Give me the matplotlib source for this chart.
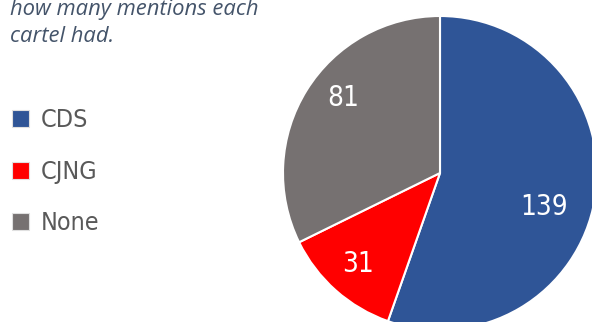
import numpy as np
import matplotlib.pyplot as plt
from matplotlib.patches import Patch

labels = ['CDS', 'CJNG', 'None']
counts = [139, 31, 81]
colors = ['#2F5597', '#FF0000', '#767171']

fig = plt.figure(figsize=(5.92, 3.22), dpi=100)

# pie is larger than the canvas: it runs off the right and bottom edges
cx, cy, r = 440, 173, 157
ax = fig.add_axes([(cx - r) / 592, (322 - cy - r) / 322, 2 * r / 592, 2 * r / 322])

wedges, _ = ax.pie(counts, colors=colors, startangle=90, counterclock=False,
                   radius=1, wedgeprops=dict(edgecolor='white', linewidth=1.5))
ax.set_xlim(-1, 1)
ax.set_ylim(-1, 1)
ax.set_aspect('equal')
ax.axis('off')

narrow = dict(family='DejaVu Sans', stretch='condensed')

# value labels (angle in degrees, distance from centre)
lab_pos = [(-18, 0.70), (-132, 0.78), (142, 0.78)]
for v, (a, d) in zip(counts, lab_pos):
    t = np.deg2rad(a)
    ax.text(d * np.cos(t), d * np.sin(t), str(v), color='white', fontsize=20,
            ha='center', va='center', **narrow)

fig.text(10 / 592, 1 - 15 / 322, 'how many mentions each', fontsize=15.8,
         style='italic', family='Open Sans', color='#44546A', va='baseline')
fig.text(10 / 592, 1 - 42 / 322, 'cartel had.', fontsize=15.8,
         style='italic', family='Open Sans', color='#44546A', va='baseline')

handles = [Patch(facecolor=c, edgecolor='#E0E0E0', linewidth=0.8) for c in colors]
leg = fig.legend(handles, labels, loc='upper left', bbox_to_anchor=(-11 / 592, 1 - 86 / 322),
                 frameon=False, handlelength=0.68, handleheight=0.68, handletextpad=0.5,
                 labelspacing=1.1, prop=dict(size=18, **narrow))
for t in leg.get_texts():
    t.set_color('#595959')

fig.savefig('out.png', dpi=100)
